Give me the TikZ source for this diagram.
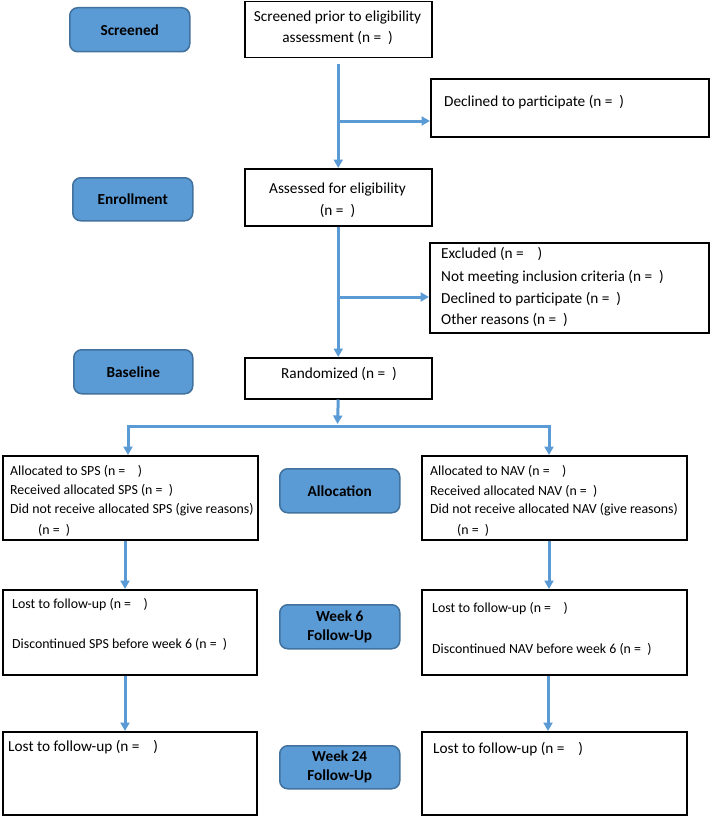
\documentclass[tikz,border=0pt]{standalone}
\usepackage{fontspec}
\setmainfont{Carlito}
\usetikzlibrary{arrows.meta}
\definecolor{flowblue}{HTML}{5B9BD5}
\definecolor{stageborder}{HTML}{41719C}
\newcommand\fsz{\fontsize{15.3pt}{20pt}\selectfont}
\newcommand\fsm{\fontsize{13.85pt}{18pt}\selectfont}
\begin{document}
\begin{tikzpicture}[x=1pt,y=-1pt,
  box/.style={draw=black, line width=1.5pt, anchor=north west, inner sep=0pt},
  stage/.style={draw=stageborder, fill=flowblue, line width=1.5pt, rounded corners=8pt,
    anchor=north west, inner sep=0pt, align=center, font=\fsz\bfseries},
  txt/.style={anchor=west, inner sep=0pt, font=\fsz},
  stxt/.style={anchor=west, inner sep=0pt, font=\fsm},
  ctxt/.style={anchor=center, inner sep=0pt, font=\fsz},
  flow/.style={draw=flowblue, line width=3pt},
  arr/.style={flow, -{Triangle[length=8.5pt,width=9pt]}}
]
\useasboundingbox (0,0) rectangle (710,816);

% stage labels
\node[stage, minimum width=120pt, minimum height=44pt] (screened) at (69,7) {Screened};
\node[stage, minimum width=120pt, minimum height=43pt] (enrollment) at (72,177) {Enrollment};
\node[stage, minimum width=119pt, minimum height=44pt] (baseline) at (73,349) {Baseline};
\node[stage, minimum width=120pt, minimum height=44pt] (allocation) at (279,468) {Allocation};
\node[stage, minimum width=120pt, minimum height=44pt] (week6) at (279,604) {Week 6\\[-1pt]Follow-Up};
\node[stage, minimum width=120pt, minimum height=43pt] (week24) at (279,745) {Week 24\\[-1pt]Follow-Up};

% boxes
\node[box, minimum width=187pt, minimum height=56pt] (top) at (244,1) {};
\node[box, minimum width=278pt, minimum height=58pt] (declined) at (430,78) {};
\node[box, minimum width=187pt, minimum height=57pt] (assessed) at (244,168) {};
\node[box, minimum width=279pt, minimum height=90pt] (excluded) at (429,242) {};
\node[box, minimum width=187pt, minimum height=41pt] (randomized) at (244,357) {};
\node[box, minimum width=255pt, minimum height=84pt] (spsalloc) at (2,455) {};
\node[box, minimum width=265pt, minimum height=84pt] (navalloc) at (421,455) {};
\node[box, minimum width=254pt, minimum height=85pt] (spsw6) at (2,589) {};
\node[box, minimum width=265pt, minimum height=85pt] (navw6) at (421,589) {};
\node[box, minimum width=254pt, minimum height=83pt] (spsw24) at (2,731) {};
\node[box, minimum width=265pt, minimum height=83pt] (navw24) at (421,731) {};

% texts
\node[ctxt] (t1) at (337.5,18) {Screened prior to eligibility};
\node[ctxt] (t2) at (337.5,38) {assessment (n =\ \ )};
\node[txt] (t3) at (444,102) {Declined to participate (n =\ \ )};
\node[ctxt] (t4) at (337.5,190) {Assessed for eligibility};
\node[ctxt] (t5) at (337.5,211) {(n =\ \ )};
\node[txt] (t6) at (441,254) {Excluded (n =\ \ \ \ )};
\node[txt] (t7) at (441,277) {Not meeting inclusion criteria (n =\ \ )};
\node[txt] (t8) at (441,299) {Declined to participate (n =\ \ )};
\node[txt] (t9) at (441,320) {Other reasons (n =\ \ )};
\node[ctxt] (t10) at (339,374) {Randomized (n =\ \ )};
\node[stxt] (t11) at (10,471) {Allocated to SPS (n =\ \ \ \ )};
\node[stxt] (t12) at (10,490) {Received allocated SPS (n =\ \ )};
\node[stxt] (t13) at (10,510) {Did not receive allocated SPS (give reasons)};
\node[stxt] (t14) at (38,530) {(n =\ \ )};
\node[stxt] (t15) at (430,471) {Allocated to NAV (n =\ \ \ \ )};
\node[stxt] (t16) at (430,491) {Received allocated NAV (n =\ \ )};
\node[stxt] (t17) at (430,510) {Did not receive allocated NAV (give reasons)};
\node[stxt] (t18) at (457,530) {(n =\ \ )};
\node[stxt] (t19) at (12,605) {Lost to follow-up (n =\ \ \ \ )};
\node[stxt] (t20) at (12,644) {Discontinued SPS before week 6 (n =\ \ )};
\node[stxt] (t21) at (432,609) {Lost to follow-up (n =\ \ \ \ )};
\node[stxt] (t22) at (432,649) {Discontinued NAV before week 6 (n =\ \ )};
\node[txt] (t23) at (8,747) {Lost to follow-up (n =\ \ \ \ )};
\node[txt] (t24) at (433,749) {Lost to follow-up (n =\ \ \ \ )};

% junction coordinates
\coordinate (j1) at (337.5,121);
\coordinate (j2) at (337.5,297);
\coordinate (j3) at (337.5,424);
\coordinate (hl) at (128,426);
\coordinate (hr) at (549,426);
\coordinate (inL) at (128,455);
\coordinate (inR) at (549,455);
\coordinate (colL) at (125,0);
\coordinate (colR) at (549,0);
\coordinate (colR2) at (548,0);

% connectors
\draw[arr, shorten <=6pt] (top.south) -- (assessed.north);
\draw[arr] (j1) -- (j1 -| declined.west);
\draw[arr] (assessed.south) -- (randomized.north);
\draw[arr] (j2) -- (j2 -| excluded.west);
\draw[arr] (randomized.south) -- (j3);
\draw[flow] ([xshift=-1.5pt]hl) -- ([xshift=1.5pt]hr);
\draw[arr] (hl) -- (inL);
\draw[arr] (hr) -- (inR);
\draw[arr] (spsalloc.south -| colL) -- (spsw6.north -| colL);
\draw[arr] (spsw6.south -| colL) -- (spsw24.north -| colL);
\draw[arr] (navalloc.south -| colR) -- (navw6.north -| colR);
\draw[arr] (navw6.south -| colR2) -- (navw24.north -| colR2);
\end{tikzpicture}
\end{document}
